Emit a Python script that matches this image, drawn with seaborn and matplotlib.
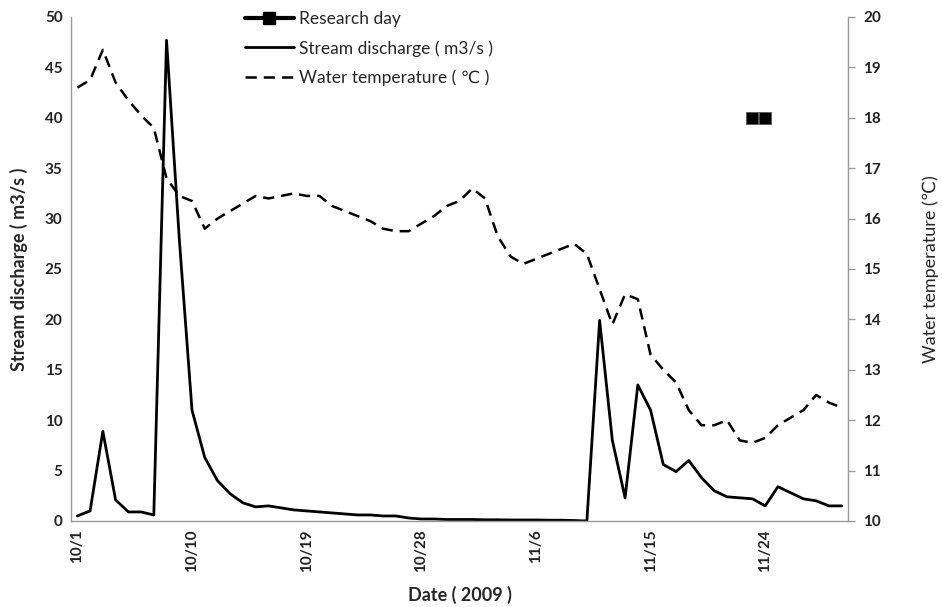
import matplotlib
matplotlib.use("Agg")
import matplotlib.pyplot as plt
import seaborn as sns
import pandas as pd
import numpy as np
from matplotlib.lines import Line2D

sns.set_style("white")
plt.rcParams['font.family'] = ['Lato', 'DejaVu Sans']

# ---- data ----
dates = pd.date_range("2009-10-01", "2009-11-30", freq="D")
discharge = [0.5, 1.0, 8.9, 2.1, 0.9, 0.9, 0.6, 47.7, 28.0, 11.0,
             6.3, 4.0, 2.7, 1.8, 1.4, 1.5, 1.3, 1.1, 1.0, 0.9,
             0.8, 0.7, 0.6, 0.6, 0.5, 0.5, 0.3, 0.2, 0.2, 0.15,
             0.15, 0.15, 0.12, 0.12, 0.1, 0.1, 0.1, 0.08, 0.08, 0.05,
             0.0, 19.9, 8.0, 2.3, 13.5, 11.0, 5.6, 4.9, 6.0, 4.3,
             3.0, 2.4, 2.3, 2.2, 1.5, 3.4, 2.8, 2.2, 2.0, 1.5,
             1.5]
temperature = [18.6, 18.75, 19.35, 18.7, 18.35, 18.05, 17.8, 16.8, 16.45, 16.35,
               15.8, 16.0, 16.15, 16.3, 16.45, 16.4, 16.45, 16.5, 16.45, 16.45,
               16.25, 16.15, 16.05, 15.95, 15.8, 15.75, 15.75, 15.9, 16.05, 16.25,
               16.35, 16.6, 16.4, 15.65, 15.25, 15.1, 15.2, 15.3, 15.4, 15.5,
               15.3, 14.6, 13.9, 14.5, 14.4, 13.3, 13.0, 12.75, 12.2, 11.9,
               11.9, 12.0, 11.6, 11.55, 11.65, 11.9, 12.05, 12.2, 12.5, 12.35,
               12.25]
research_dates = pd.to_datetime(["2009-11-23", "2009-11-24"])
research_level = [40, 40]
tick_dates = pd.to_datetime(["2009-10-01", "2009-10-10", "2009-10-19", "2009-10-28",
                             "2009-11-06", "2009-11-15", "2009-11-24"])
tick_labels = ["10/1", "10/10", "10/19", "10/28", "11/6", "11/15", "11/24"]

df = pd.DataFrame({"date": dates, "discharge": discharge, "temperature": temperature})
rd = pd.DataFrame({"date": research_dates, "level": research_level})

fig = plt.figure(figsize=(9.42, 6.07), dpi=100)
ax = fig.add_axes([71/942, 1-521/607, (848-71)/942, (521-17)/607])
ax2 = ax.twinx()

sns.lineplot(data=df, x="date", y="discharge", ax=ax, color="black", lw=2.0)
sns.lineplot(data=rd, x="date", y="level", ax=ax, color="black", lw=2.5,
             marker="s", markersize=9, markeredgecolor="#555555", markeredgewidth=0.6)
sns.lineplot(data=df, x="date", y="temperature", ax=ax2, color="black", lw=1.8,
             linestyle=(0, (4.5, 2.8)))

ax.set_xlim(dates[0] - pd.Timedelta(hours=12), dates[-1] + pd.Timedelta(hours=12))
ax.set_ylim(0, 50)
ax2.set_ylim(10, 20)
ax.set_yticks(np.arange(0, 51, 5))
ax2.set_yticks(np.arange(10, 21, 1))
ax.set_xticks(tick_dates)
ax.set_xticklabels(tick_labels, rotation=90, fontsize=11, fontweight="bold", color="#222222")
for lab in ax.get_yticklabels():
    lab.set_fontsize(11); lab.set_fontweight("bold"); lab.set_color("#222222")
for lab in ax2.get_yticklabels():
    lab.set_fontsize(11); lab.set_fontweight("bold"); lab.set_color("#222222")

ax.set_ylabel("Stream discharge ( m3/s )", fontsize=13, fontweight="bold", labelpad=12)
ax.set_xlabel("Date ( 2009 )", fontsize=13, fontweight="bold", labelpad=10)
ax2.set_ylabel("Water temperature (℃)", fontsize=13, labelpad=30)

for a in (ax, ax2):
    a.spines["top"].set_visible(False)
    for s in ("left", "bottom", "right"):
        a.spines[s].set_color("#999999")
        a.spines[s].set_linewidth(1.0)
ax.spines["right"].set_visible(False)
ax2.spines["left"].set_visible(False)
ax2.spines["bottom"].set_visible(False)
ax.tick_params(axis="both", length=0, pad=6)
ax2.tick_params(axis="y", length=5, width=1, color="#999999", direction="out", pad=6, right=True)
ax.grid(False); ax2.grid(False)

handles = [
    Line2D([], [], color="black", lw=3, marker="s", markersize=8),
    Line2D([], [], color="black", lw=2),
    Line2D([], [], color="black", lw=1.8, linestyle=(0, (4.5, 2.8))),
]
labels = ["Research day", "Stream discharge ( m3/s )", "Water temperature ( ℃ )"]
fig.legend(handles, labels, loc="upper left", bbox_to_anchor=(238/942, 1-4/607),
           frameon=False, fontsize=12.5, handlelength=2.8, handletextpad=0.3,
           labelspacing=0.75, borderaxespad=0)

fig.savefig("out.png", dpi=100)
